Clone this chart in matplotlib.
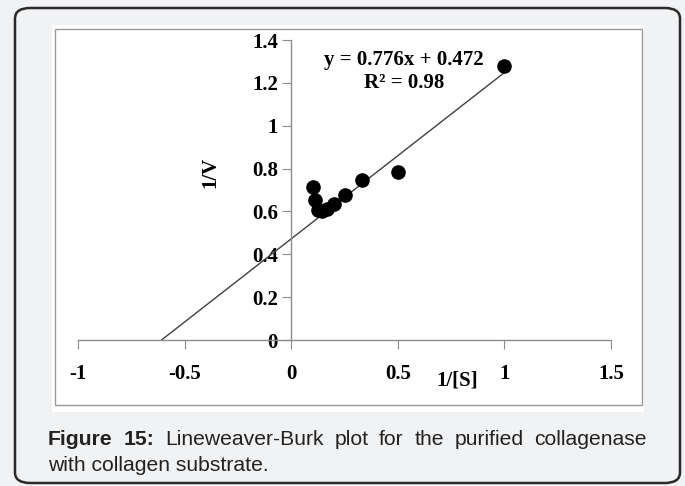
import numpy as np
import matplotlib.pyplot as plt
from matplotlib.patches import FancyBboxPatch, Rectangle
from matplotlib.ticker import FuncFormatter

plt.rcParams['axes.unicode_minus'] = False

# data
inv_s = [1.0, 0.5, 0.333, 0.25, 0.2, 0.167, 0.143, 0.125, 0.111, 0.1]
inv_v = [1.28, 0.785, 0.745, 0.675, 0.635, 0.61, 0.60, 0.605, 0.655, 0.715]
slope = 0.776
intercept = 0.472
r2 = 0.98
x_ticks = [-1, -0.5, 0, 0.5, 1, 1.5]
y_ticks = [0, 0.2, 0.4, 0.6, 0.8, 1, 1.2, 1.4]

serif = 'Liberation Serif'
sans = ['Liberation Sans', 'DejaVu Sans']
fs = 15

W, H = 685, 486
fig = plt.figure(figsize=(W / 100, H / 100), dpi=100)
fig.patch.set_facecolor('#f1f2f4')

# rounded outer frame
frame = FancyBboxPatch((15 / W, 3 / H), 665 / W, 475 / H,
                       boxstyle='round,pad=0,rounding_size=0.022',
                       transform=fig.transFigure, facecolor='none',
                       edgecolor='#2a2a2a', linewidth=1.8, zorder=-2)
fig.patches.append(frame)
# white chart panel with thin gray border
fig.patches.append(Rectangle((52 / W, 1 - 412 / H), 592 / W, 387 / H,
                             transform=fig.transFigure, facecolor='white',
                             edgecolor='none', zorder=-2))
fig.patches.append(Rectangle((55 / W, 1 - 405 / H), 587 / W, 376 / H,
                             transform=fig.transFigure, facecolor='none',
                             edgecolor='#9a9a9a', linewidth=1.0, zorder=-1))

ax = fig.add_axes([78 / W, 1 - 340 / H, 533 / W, 300 / H])
ax.set_zorder(2)
ax.set_facecolor('none')
ax.set_xlim(-1, 1.5)
ax.set_ylim(0, 1.4)

# trendline from the x-intercept to the last point
x0 = -intercept / slope
xl = np.array([x0, max(inv_s)])
ax.plot(xl, slope * xl + intercept, color='#404040', linewidth=1.0, zorder=2)
ax.plot(inv_s, inv_v, 'o', color='black', markersize=9.5, zorder=3,
        clip_on=False)

ax.spines['top'].set_visible(False)
ax.spines['right'].set_visible(False)
ax.spines['left'].set_position(('data', 0))
ax.spines['bottom'].set_position(('data', 0))
for s in ['left', 'bottom']:
    ax.spines[s].set_color('#8c8c8c')
    ax.spines[s].set_linewidth(1.0)

ax.set_xticks(x_ticks)
ax.set_yticks(y_ticks)
ax.xaxis.set_major_formatter(FuncFormatter(lambda v, p: '%g' % v))
ax.yaxis.set_major_formatter(FuncFormatter(lambda v, p: '%g' % v))
ax.tick_params(axis='x', direction='out', length=6.5, color='#8c8c8c', pad=11)
ax.tick_params(axis='y', direction='out', length=6.5, color='#8c8c8c', pad=3)
for lab in ax.get_xticklabels() + ax.get_yticklabels():
    lab.set_fontfamily(serif)
    lab.set_fontweight('bold')
    lab.set_fontsize(fs)

fig.text(457 / W, 1 - 380 / H, '1/[S]', family=serif, weight='bold',
         fontsize=fs, ha='center', va='center')
fig.text(210 / W, 1 - 172 / H, '1/V', family=serif, weight='bold',
         fontsize=fs, ha='center', va='center', rotation=90)

fig.text(404 / W, 1 - 60 / H, 'y = %.3fx + %.3f' % (slope, intercept),
         family=serif, weight='bold', fontsize=fs, ha='center', va='center')
fig.text(404 / W, 1 - 83 / H, 'R² = %.2f' % r2,
         family=serif, weight='bold', fontsize=fs, ha='center', va='center')

# caption, first line justified word by word
renderer = fig.canvas.get_renderer()
line1 = [('Figure', 'bold'), ('15:', 'bold'), ('Lineweaver-Burk', 'normal'),
         ('plot', 'normal'), ('for', 'normal'), ('the', 'normal'),
         ('purified', 'normal'), ('collagenase', 'normal')]
left, right = 48, 647
cap_size = 15.2
texts = []
widths = []
for word, wt in line1:
    t = fig.text(0, 1 - 439 / H, word, family=sans, weight=wt,
                 fontsize=cap_size, color='#222222', ha='left', va='center')
    texts.append(t)
    widths.append(t.get_window_extent(renderer).width)
gap = (right - left - sum(widths)) / (len(texts) - 1)
xpos = left
for t, w in zip(texts, widths):
    t.set_x(xpos / W)
    xpos += w + gap

fig.text(left / W, 1 - 465 / H, 'with collagen substrate.', family=sans,
         fontsize=cap_size, color='#222222', ha='left', va='center')

fig.savefig('out.png', dpi=100, facecolor=fig.get_facecolor())
